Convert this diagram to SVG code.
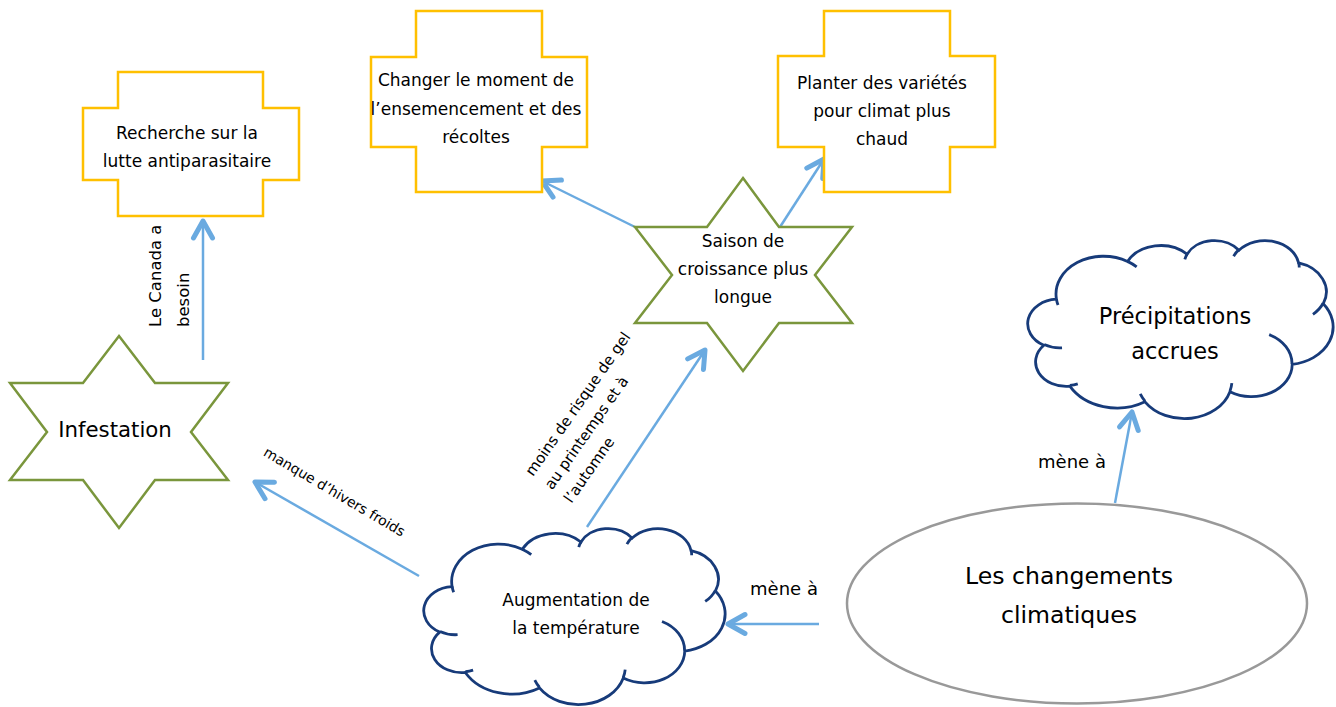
<svg xmlns="http://www.w3.org/2000/svg" xmlns:xlink="http://www.w3.org/1999/xlink" width="1336" height="707" viewBox="0 0 1336 707">
<style>
  text { font-family: "DejaVu Sans", "Liberation Sans", sans-serif; fill: #000; }
  .cross { fill: #fff; stroke: #FFC000; stroke-width: 2.5; }
  .star { fill: #fff; stroke: #7A963C; stroke-width: 2.5; stroke-linejoin: miter; }
  .cloud { fill: #fff; stroke: #173B7A; stroke-width: 2.8; vector-effect: non-scaling-stroke; }
  .fold { fill: none; stroke: #173B7A; stroke-width: 2.8; vector-effect: non-scaling-stroke; }
  .oval { fill: #fff; stroke: #999999; stroke-width: 2.5; }
  .edge { fill: none; stroke: #6AAAE0; stroke-width: 2.5; marker-end: url(#ah); }
  .t17 { font-size: 17px; text-anchor: middle; }
  .lbl { font-size: 14px; }
</style>
<defs>
  <marker id="ah" markerUnits="userSpaceOnUse" viewBox="-22 -14 28 28" markerWidth="28" markerHeight="28" refX="0" refY="0" orient="auto" overflow="visible">
    <path d="M-17,-9.5 L0,0 L-17,9.5" fill="none" stroke="#6AAAE0" stroke-width="5" stroke-linecap="round" stroke-linejoin="round"/>
  </marker>
  <path id="cloudOutline" class="cloud" d="M3900,14370 A6753,9190 0 0 1 14005,5202 A5333,7267 0 0 1 22456,3432 A4365,5945 0 0 1 29834,2480 A4857,6595 0 0 1 38319,5577 A5333,7273 0 0 1 41819,15461 A6775,9220 0 0 1 37404,30202 A5785,7867 0 0 1 28556,36813 A6752,9215 0 0 1 16481,39265 A7720,10543 0 0 1 5805,35470 A4360,5918 0 0 1 2113,25548 A4345,5945 0 0 1 3900,14370 Z"/>
  <path id="cloudFolds" class="fold" d="M4693,26177 A4345,5945 0 0 1 2160,25380 M6928,34899 A4360,5918 0 0 1 5820,35281 M16478,39090 A6752,9215 0 0 1 15810,37349 M28827,34751 A6752,9215 0 0 1 28560,36660 M34129,22954 A5785,7867 0 0 1 37380,30089 M41798,15354 A5333,7273 0 0 1 40350,18030 M38324,5426 A4857,6595 0 0 1 38400,6690 M29078,3952 A4857,6595 0 0 1 29821,2338 M22141,4720 A4365,5945 0 0 1 22500,3331 M14000,5192 A6753,9190 0 0 1 15300,6541 M4127,15789 A6753,9190 0 0 1 3900,14370"/>
</defs>

<rect width="1336" height="707" fill="#fff"/>

<g id="connectors">
  <path class="edge" d="M203,360 L203,221"/>
  <path class="edge" d="M635,227 L542,181"/>
  <path class="edge" d="M780,227 L824,159"/>
  <path class="edge" d="M587,527 L705,350"/>
  <path class="edge" d="M419,576 L255,482"/>
  <path class="edge" d="M819,624 L728,624"/>
  <path class="edge" d="M1115,503 L1132,412"/>
</g>

<g id="connector-labels">
  <text font-size="16.5" transform="translate(161,327) rotate(-90)"><tspan x="0" y="0">Le Canada a</tspan><tspan x="0" y="28">besoin</tspan></text>
  <text class="lbl" text-anchor="middle" transform="translate(332,496) rotate(30.5)">manque d’hivers froids</text>
  <text font-size="15" transform="translate(533,477) rotate(-55)"><tspan x="0" y="0">moins de risque de gel</tspan><tspan x="0" y="23.5">au printemps et à</tspan><tspan x="0" y="47">l’automne</tspan></text>
  <text font-size="18" text-anchor="middle" x="784" y="595">mène à</text>
  <text font-size="18" text-anchor="middle" x="1072" y="468">mène à</text>
</g>

<g id="n-recherche">
  <path class="cross" d="M118,72 H263 V108 H299 V180 H263 V216 H118 V180 H83 V108 H118 Z"/>
  <text class="t17" x="187" y="139">Recherche sur la</text>
  <text class="t17" x="187" y="167">lutte antiparasitaire</text>
</g>

<g id="n-changer">
  <path class="cross" d="M416,11 H542 V57 H587 V147 H542 V192 H416 V147 H371 V57 H416 Z"/>
  <text class="t17" x="476" y="86">Changer le moment de</text>
  <text class="t17" x="476" y="115">l’ensemencement et des</text>
  <text class="t17" x="476" y="143">récoltes</text>
</g>

<g id="n-planter">
  <path class="cross" d="M824,11 H950 V56 H995 V147 H950 V192 H824 V147 H778 V56 H824 Z"/>
  <text class="t17" x="882" y="89">Planter des variétés</text>
  <text class="t17" x="882" y="117">pour climat plus</text>
  <text class="t17" x="882" y="145">chaud</text>
</g>

<g id="n-saison">
  <path class="star" d="M743,178 L779,227 L852,227 L815,275 L852,323 L779,323 L743,371 L707,323 L635,323 L672,275 L635,227 L707,227 Z"/>
  <text class="t17" x="743" y="247">Saison de</text>
  <text class="t17" x="743" y="275">croissance plus</text>
  <text class="t17" x="743" y="303">longue</text>
</g>

<g id="n-infestation">
  <path class="star" d="M119,336 L155,383 L228,383 L191,432 L228,480 L155,480 L119,528 L83,480 L10,480 L47,432 L10,383 L83,383 Z"/>
  <text font-size="21.3" text-anchor="middle" x="115" y="437">Infestation</text>
</g>

<g id="n-augmentation">
  <g transform="translate(425,528) scale(0.0069444,0.0040741)">
    <use xlink:href="#cloudOutline" href="#cloudOutline"/>
    <use xlink:href="#cloudFolds" href="#cloudFolds"/>
  </g>
  <text class="t17" x="576" y="606">Augmentation de</text>
  <text class="t17" x="576" y="634">la température</text>
</g>

<g id="n-precipitations">
  <g transform="translate(1029,240) scale(0.0070370,0.0041204)">
    <use xlink:href="#cloudOutline" href="#cloudOutline"/>
    <use xlink:href="#cloudFolds" href="#cloudFolds"/>
  </g>
  <text font-size="22.5" text-anchor="middle" x="1175" y="324">Précipitations</text>
  <text font-size="22.5" text-anchor="middle" x="1175" y="359">accrues</text>
</g>

<g id="n-changements">
  <ellipse class="oval" cx="1077" cy="603.5" rx="230" ry="100"/>
  <text font-size="23.6" text-anchor="middle" x="1069" y="584">Les changements</text>
  <text font-size="23.6" text-anchor="middle" x="1069" y="623">climatiques</text>
</g>
</svg>
